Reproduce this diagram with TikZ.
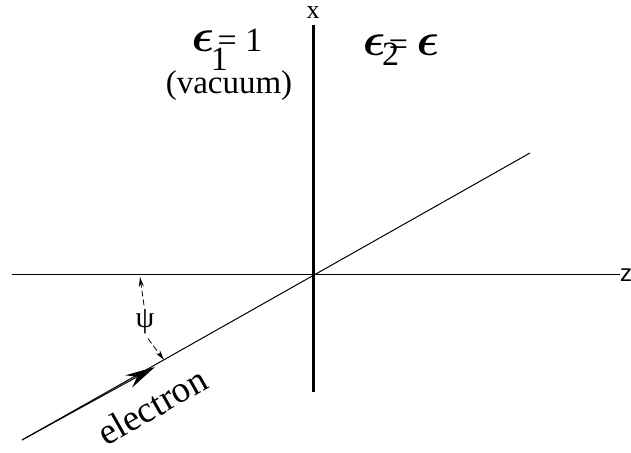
\documentclass[tikz,border=0pt]{standalone}
\usepackage{fontspec}
\usepackage{amsmath}
\usepackage{graphicx}
\setmainfont{Liberation Serif}
\newfontfamily\zfont{Liberation Sans}
\usetikzlibrary{arrows.meta}
\newcommand{\epsbig}{\scalebox{1.35}{$\boldsymbol{\epsilon}$}}
\begin{document}
\begin{tikzpicture}[x=0.5pt,y=-0.5pt]
      \useasboundingbox (0,0) rectangle (631,453);

      \tikzstyle{axis} = [draw=black, line width=0.5pt]
      \tikzstyle{wall} = [draw=black, line width=1.5pt]
      \tikzstyle{label} = [draw=none, inner sep=0pt, align=center]
      \tikzstyle{measure} = [draw=black, line width=0.4pt, dash pattern=on 3pt off 1.5pt, -{Stealth[length=5pt,width=2.5pt]}]
      \tikzstyle{beam} = [draw=black, line width=0.5pt, -{Stealth[length=15pt,width=7pt]}]

      % axes
      \coordinate (origo) at (313,275);
      \coordinate (wallTop) at (313,25);
      \coordinate (wallBottom) at (313,392);
      \coordinate (axisLeft) at (12,275);
      \coordinate (axisRight) at (620,275);
      \coordinate (rayStart) at (22,440);
      \coordinate (rayEnd) at (530,153);
      \coordinate (rayTip) at (155,367);

      \draw[wall] (wallTop) -- (wallBottom);
      \draw[axis] (axisLeft) -- (axisRight);
      \draw[axis] (rayStart) -- (rayEnd);
      \draw[beam] (rayStart) -- (rayTip);

      \node[label] (xLabel) at (313,13) {\fontsize{13}{15}\selectfont x};
      \node[label] (zLabel) at (626,275) {\fontsize{12}{14}\zfont z};

      % media
      \node[label] (mediumOne) at (227,50) {\fontsize{17}{20}\selectfont\epsbig\kern-0.1em\raisebox{-0.55em}{1}\kern-0.3em= 1};
      \node[label] (mediumOneLabel) at (229,86) {\fontsize{16.5}{19}\selectfont (vacuum)};
      \node[label] (mediumTwo) at (401,50) {\fontsize{17}{20}\selectfont\epsbig\kern-0.1em\raisebox{-0.3em}{2}\kern-0.3em= \epsbig};

      % angle
      \node[label] (psiLabel) at (145,322) {\fontsize{15}{17}\selectfont ψ};
      \coordinate (psiTop) at (140,277);
      \coordinate (psiBottom) at (164,360);
      \draw[measure] (psiLabel.north) ++(-1,-4) -- (psiTop);
      \draw[measure] (psiLabel.south) ++(3,4) -- (psiBottom);

      % electron
      \node[label,rotate=29.45] (electronLabel) at (152,406) {\fontsize{18.5}{21}\selectfont electron};
    \end{tikzpicture}
\end{document}
